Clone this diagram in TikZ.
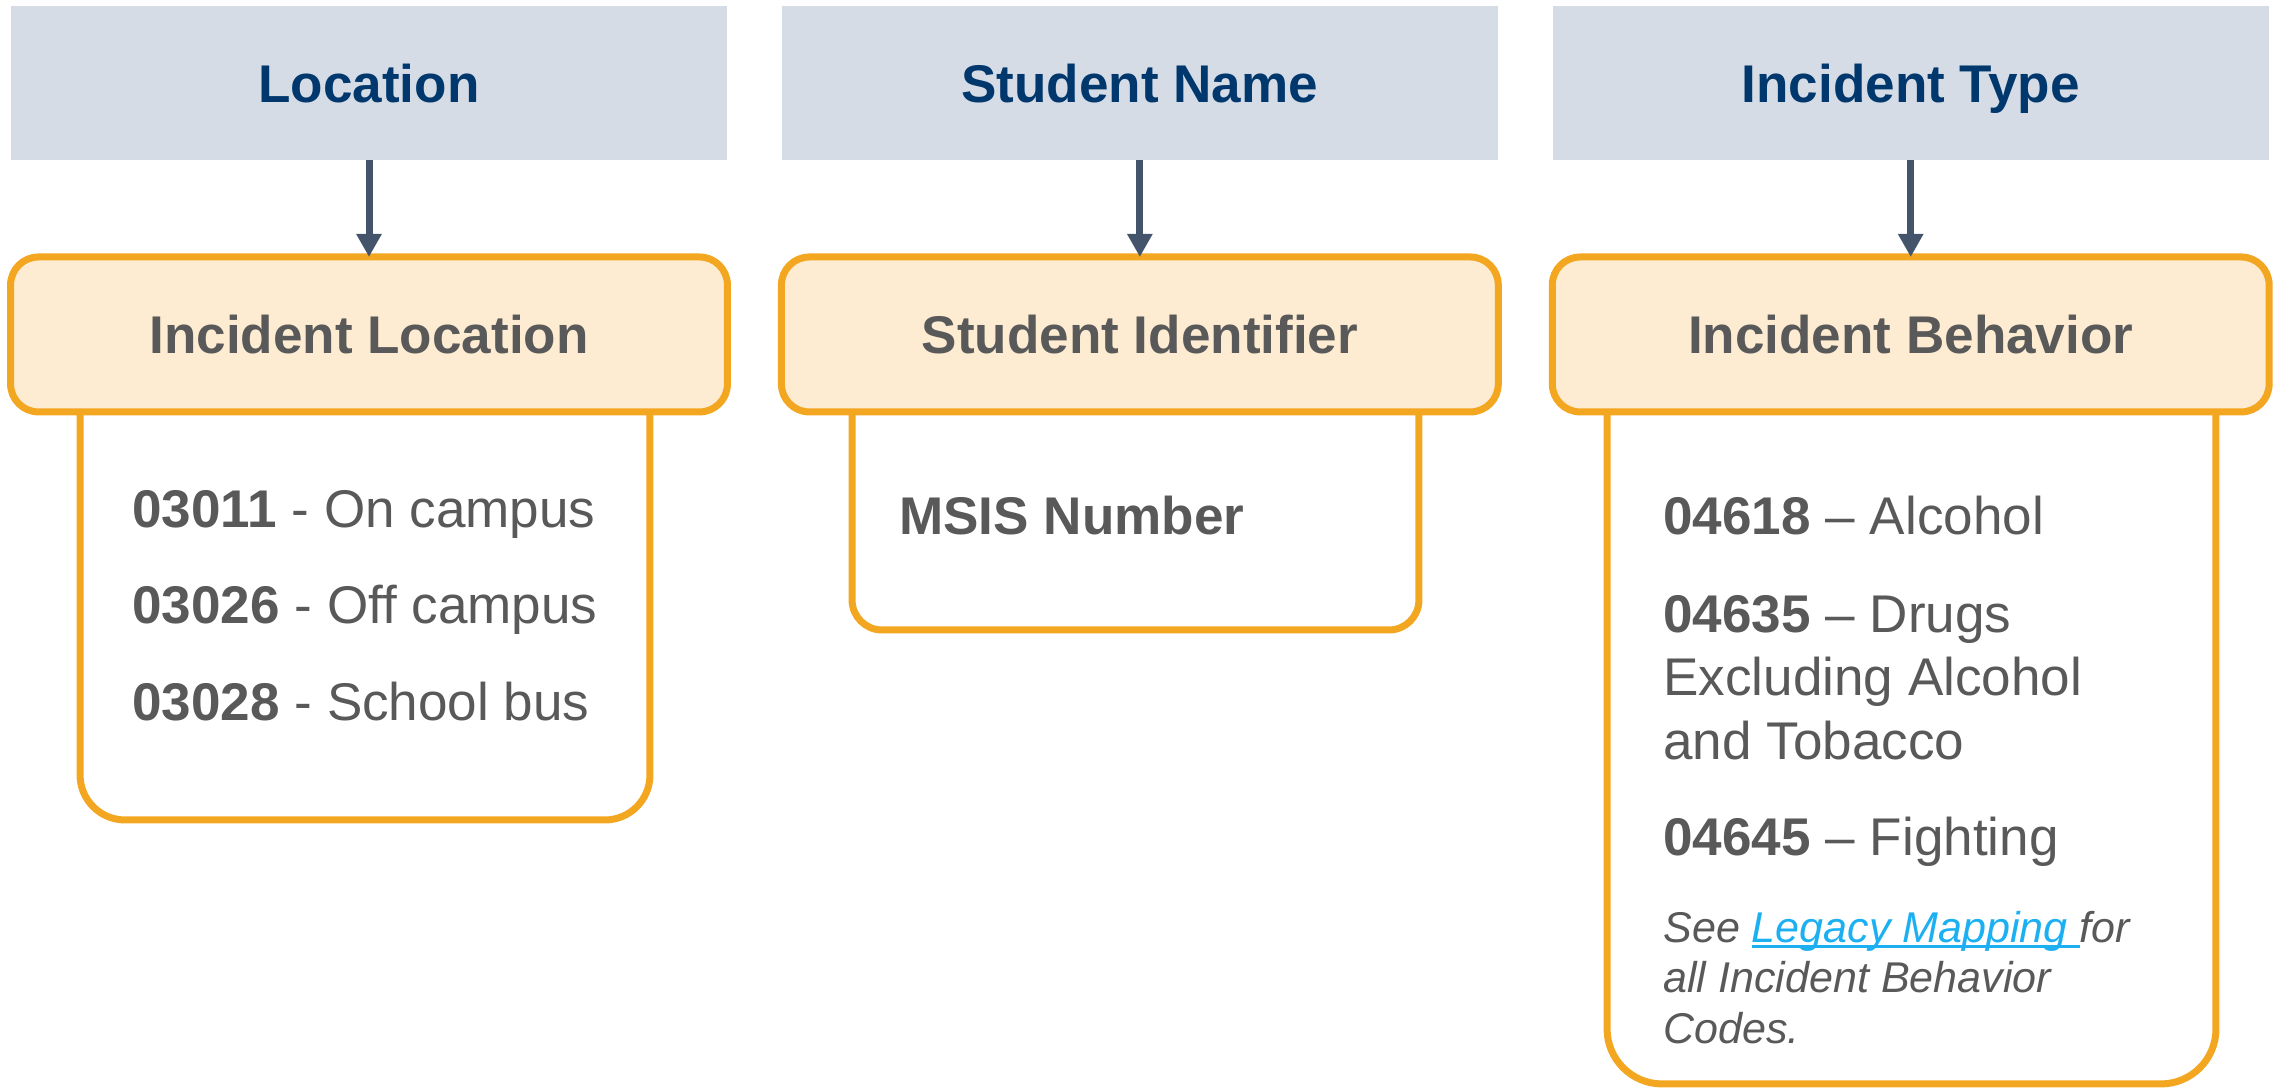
\documentclass[tikz,border=0pt]{standalone}
\usepackage{fontspec}
\setmainfont{Liberation Sans}
\usetikzlibrary{positioning, arrows.meta}

\definecolor{headfill}{RGB}{214,220,229}
\definecolor{headtext}{RGB}{0,56,110}
\definecolor{arrowgray}{RGB}{68,84,106}
\definecolor{elemline}{RGB}{243,166,32}
\definecolor{elemfill}{RGB}{253,236,210}
\definecolor{bodytext}{RGB}{89,89,89}
\definecolor{linkblue}{RGB}{28,176,242}

\newcommand{\bigfont}{\fontsize{30.2pt}{36.4pt}\selectfont}
\newcommand{\notefont}{\fontsize{24.5pt}{29pt}\selectfont\itshape}
\newcommand{\linkul}[1]{\textcolor{linkblue}{\setbox0\hbox{#1}\rlap{\rule[-0.14em]{\wd0}{0.07em}}\box0}}

\tikzset{
    fieldhead/.style={rectangle, fill=headfill, text=headtext, font=\bigfont\bfseries,
        minimum width=14.32cm, minimum height=3.08cm, inner sep=0pt, outer sep=0pt,
        text height=21.7pt, text depth=0pt},
    elemhead/.style={rectangle, rounded corners=0.56cm, draw=elemline, fill=elemfill,
        line width=0.14cm, text=bodytext, font=\bigfont\bfseries,
        minimum width=14.34cm, minimum height=3.1cm, inner sep=0pt, outer sep=0pt,
        text height=21.7pt, text depth=0pt},
    elembody/.style={rectangle, draw=elemline, fill=white, line width=0.14cm,
        inner sep=0pt, outer sep=0pt},
    codeline/.style={anchor=base west, inner sep=0pt, text=bodytext, font=\bigfont},
    noteline/.style={anchor=base west, inner sep=0pt, text=bodytext, font=\notefont},
    flow/.style={draw=arrowgray, line width=0.14cm, -{Triangle[length=0.46cm, width=0.48cm]}},
}

\begin{document}
\begin{tikzpicture}[x=0.02cm, y=-0.02cm]
    \useasboundingbox (0,0) rectangle (2277,1088);

    % field names
    \node [fieldhead] (h1) at (369,83) {Location};
    \node [fieldhead, right=1.1cm of h1] (h2) {Student Name};
    \node [fieldhead, right=1.1cm of h2] (h3) {Incident Type};

    % element bodies
    \node [elembody, rounded corners=0.9cm, minimum width=11.4cm, minimum height=9.72cm] (b1) at (365,577) {};
    \node [elembody, rounded corners=0.6cm, minimum width=11.34cm, minimum height=5.92cm] (b2) at (1135.5,482) {};
    \node [elembody, rounded corners=1.1cm, minimum width=12.18cm, minimum height=15cm] (b3) at (1911.5,709) {};

    % element names
    \node [elemhead, below=1.94cm of h1] (e1) {Incident Location};
    \node [elemhead, below=1.94cm of h2] (e2) {Student Identifier};
    \node [elemhead, below=1.94cm of h3] (e3) {Incident Behavior};

    \draw [flow] (h1) -- (e1);
    \draw [flow] (h2) -- (e2);
    \draw [flow] (h3) -- (e3);

    % codes
    \node [codeline] (l1) at (132,527) {\textbf{03011} - On campus};
    \node [codeline] (l2) at (132,623) {\textbf{03026} - Off campus};
    \node [codeline] (l3) at (132,720) {\textbf{03028} - School bus};

    \node [codeline] (s1) at (899,534) {\textbf{MSIS Number}};

    \node [codeline] (t1) at (1663,534) {\textbf{04618} -- Alcohol};
    \node [codeline] (t2) at (1663,632) {\textbf{04635} -- Drugs};
    \node [codeline] (t2b) at (1663,695) {Excluding Alcohol};
    \node [codeline] (t2c) at (1663,759) {and Tobacco};
    \node [codeline] (t3) at (1663,855) {\textbf{04645} -- Fighting};

    \node [noteline] (n1) at (1663,942) {See \linkul{Legacy Mapping\ }for};
    \node [noteline] (n2) at (1663,992) {all Incident Behavior};
    \node [noteline] (n3) at (1663,1043) {Codes.};
\end{tikzpicture}
\end{document}
